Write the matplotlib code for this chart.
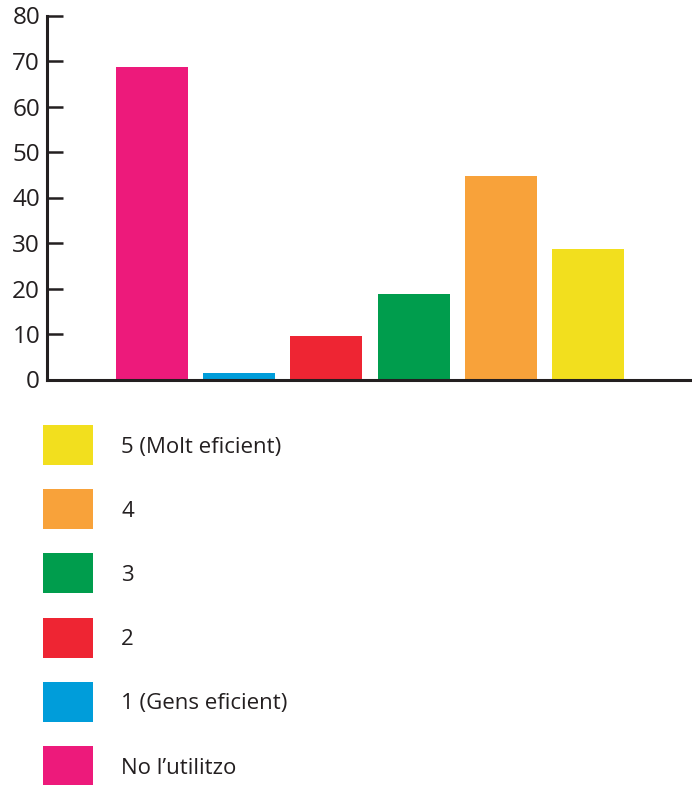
import matplotlib
matplotlib.use("Agg")
import matplotlib.pyplot as plt
from matplotlib.patches import Rectangle

# data
categories = ["No l\u2019utilitzo", "1 (Gens eficient)", "2", "3", "4", "5 (Molt eficient)"]
values = [68.7, 1.5, 9.6, 18.7, 44.7, 28.7]
colors = ["#ED1A7B", "#009DDA", "#EE2533", "#009D4D", "#F8A23A", "#F2DF1E"]
yticks = [0, 10, 20, 30, 40, 50, 60, 70, 80]

plt.rcParams['font.family'] = ['Open Sans', 'DejaVu Sans']
ink = "#231F20"

W, H = 692, 785
fig = plt.figure(figsize=(W / 100, H / 100), dpi=100)

# main bar axes (positions from pixel measurements)
ax = fig.add_axes([47 / W, (H - 379.5) / H, 1 - 47 / W, 364 / H])
xs = list(range(len(values)))
ax.bar(xs, values, width=0.826, color=colors, zorder=2)
ax.set_xlim(-1.2, 6.19)
ax.set_ylim(0, 80)
ax.set_yticks(yticks)
ax.set_yticklabels([str(t) for t in yticks], fontsize=17.5, color=ink)
ax.tick_params(axis='y', direction='in', length=11.5, width=1.8, color=ink, pad=5)
ax.set_xticks([])
for s in ['top', 'right']:
    ax.spines[s].set_visible(False)
for s in ['left', 'bottom']:
    ax.spines[s].set_linewidth(2.2)
    ax.spines[s].set_color(ink)
    ax.spines[s].set_zorder(3)

# legend drawn in pixel coordinates
lg = fig.add_axes([0, 0, 1, 1])
lg.set_xlim(0, W)
lg.set_ylim(H, 0)
lg.axis('off')
for i, (lab, col) in enumerate(zip(categories[::-1], colors[::-1])):
    y0 = 425 + i * 64.2
    lg.add_patch(Rectangle((43, y0), 50, 40, facecolor=col, edgecolor='none'))
    lg.text(121, y0 + 22, lab, fontsize=16, color=ink, va='center', ha='left')

fig.savefig("out.png", dpi=100)
